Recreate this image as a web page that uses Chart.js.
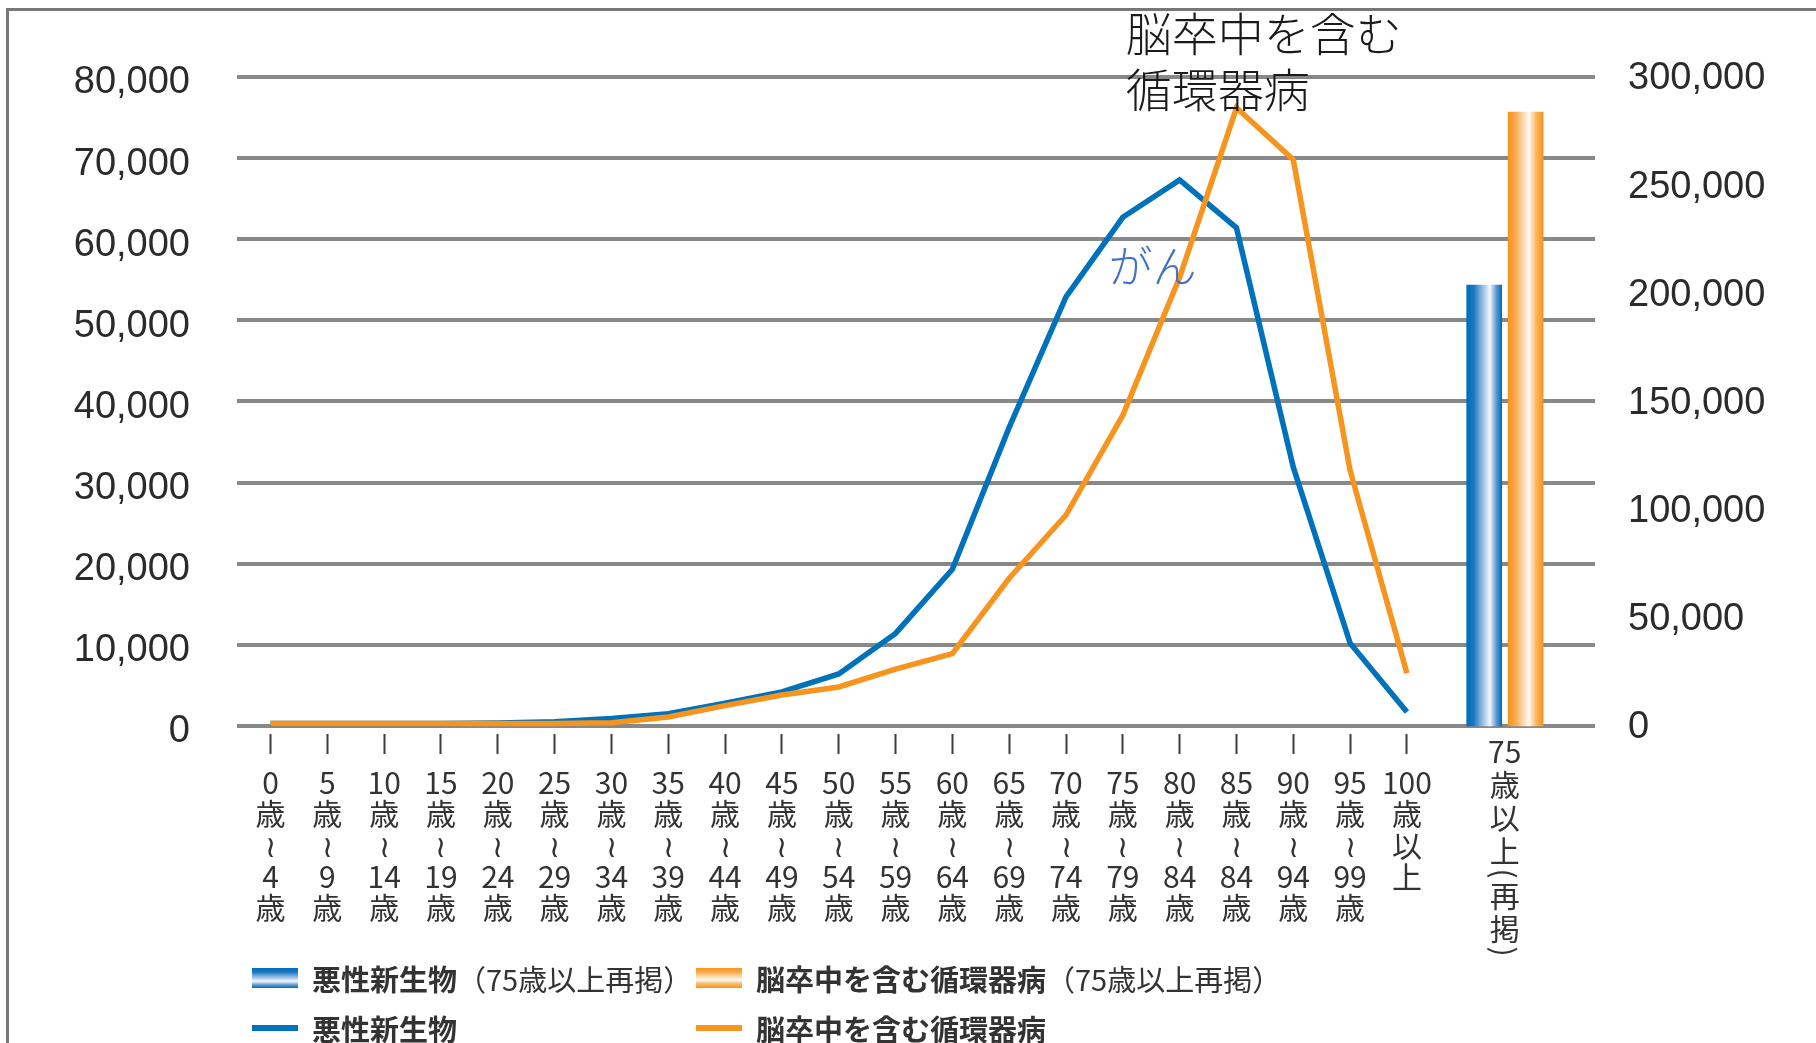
<!DOCTYPE html>
<html lang="ja">
<head>
<meta charset="UTF-8">
<title>年齢階級別 悪性新生物・循環器病の死亡数</title>
<script src="https://cdn.jsdelivr.net/npm/chart.js"></script>
<style>
  html, body { margin: 0; padding: 0; background: #fff; overflow: hidden; }
  #wrap { position: relative; width: 1816px; height: 1043px; }
  #frame { position: absolute; left: 6px; top: 8px; width: 1900px; height: 1200px;
           border: 3px solid #777; box-sizing: border-box; pointer-events: none; }
  #legend { position: absolute; left: 252px; top: 953px; display: grid;
            grid-template-columns: 444px auto; font-family: "Noto Sans CJK JP"; font-size: 29px; color: #333; }
  #legend .item { display: flex; align-items: center; height: 50px; white-space: nowrap; }
  #legend .sw { width: 46px; margin-right: 14px; }
  #legend b { font-weight: 700; }
  #legend span.note { font-weight: 400; font-size: 29px; }
</style>
</head>
<body>
<div id="wrap">
  <canvas id="chart"></canvas>
  <div id="frame"></div>
  <div id="legend"></div>
</div>
<script>
// 年齢階級（5歳刻み）
const ageFrom = ['0', '5', '10', '15', '20', '25', '30', '35', '40', '45', '50',
                 '55', '60', '65', '70', '75', '80', '85', '90', '95', '100'];
const ageTo   = ['4', '9', '14', '19', '24', '29', '34', '39', '44', '49', '54',
                 '59', '64', '69', '74', '79', '84', '84', '94', '99', null];

// 死亡数（左軸）
const cancerDeaths = [300, 300, 300, 300, 350, 500, 900, 1500, 2800, 4200, 6400,
                      11400, 19300, 36800, 52900, 62700, 67300, 61400, 31900, 10200, 1700];
const circDeaths   = [300, 300, 300, 300, 300, 300, 400, 1100, 2500, 3800, 4800,
                      7000, 8900, 18200, 26000, 38300, 55300, 76200, 69800, 31500, 6500];

// 75歳以上（再掲、右軸）
const cancer75 = 203800;
const circ75 = 283800;
const barSlots = [21.36, 22.09];
const barTickPos = 21.72;
const barTickLines = ['75', '歳', '以', '上', '(', '再', '掲', ')'];

const seriesNames = ['悪性新生物', '脳卒中を含む循環器病'];
const recapNote = '（75歳以上再掲）';

const leftTicks = [0, 10000, 20000, 30000, 40000, 50000, 60000, 70000, 80000];
const rightTicks = [0, 50000, 100000, 150000, 200000, 250000, 300000];
const xRange = [-0.59, 23.31];

const notes = [
  { lines: ['脳卒中を含む', '循環器病'], x: 15.05, y: 85400, color: '#1a1a1a', size: 46 },
  { lines: ['がん'], x: 14.75, y: 56700, color: '#4472c4', size: 44 }
];

const BLUE = '#0071bb';
const ORANGE = '#f7941e';
const blueStops = [[0, '#006cb8'], [0.2, '#1a78c2'], [0.5, '#a9c9ea'], [0.66, '#f4f8fd'], [0.85, '#5d97d3'], [1, '#006cb8']];
const orangeStops = [[0, '#f7941d'], [0.2, '#f9a84a'], [0.48, '#fde3c4'], [0.6, '#fffaf3'], [0.8, '#fbb560'], [1, '#f7941d']];

function ageLabel(i) {
  if (ageTo[i] === null) return [ageFrom[i], '歳', '以', '上'];
  return [ageFrom[i], '歳', '≀', ageTo[i], '歳'];
}

function barFill(stops, slot) {
  return (c) => {
    const chart = c.chart;
    if (!chart.chartArea) return stops[0][1];
    const px = chart.scales.x.getPixelForValue(slot);
    const g = chart.ctx.createLinearGradient(px - 17.5, 0, px + 17.5, 0);
    stops.forEach(([o, col]) => g.addColorStop(o, col));
    return g;
  };
}

// 右端の再掲バーの縦書きラベル（括弧は90度回転）
const barLabelPlugin = {
  id: 'barLabel',
  afterDraw(chart) {
    const { ctx, scales: { x } } = chart;
    const cx = x.getPixelForValue(barTickPos);
    let y = x.top + 18;
    ctx.save();
    ctx.font = '30px "Noto Sans CJK JP"';
    ctx.fillStyle = '#333';
    ctx.textAlign = 'center';
    ctx.textBaseline = 'middle';
    barTickLines.forEach((s, i) => {
      const br = s === '(' || s === ')';
      if (i > 0) {
        const prevBr = barTickLines[i - 1] === '(' || barTickLines[i - 1] === ')';
        y += (br || prevBr) ? 22.5 : 33;
      }
      if (br) {
        ctx.save();
        ctx.translate(cx, y);
        ctx.rotate(Math.PI / 2);
        ctx.fillText(s, 0, 0);
        ctx.restore();
      } else {
        ctx.fillText(s, cx, y);
      }
    });
    ctx.restore();
  }
};

// 系列名の注記
const notePlugin = {
  id: 'notes',
  afterDatasetsDraw(chart) {
    const { ctx, scales: { x, y } } = chart;
    ctx.save();
    ctx.textAlign = 'left';
    ctx.textBaseline = 'middle';
    notes.forEach(n => {
      ctx.font = `300 ${n.size}px "Noto Sans CJK JP Light", "Noto Sans CJK JP"`;
      ctx.fillStyle = n.color;
      const px = x.getPixelForValue(n.x);
      let py = y.getPixelForValue(n.y);
      n.lines.forEach(line => { ctx.fillText(line, px, py); py += 56; });
    });
    ctx.restore();
  }
};

const canvas = document.getElementById('chart');
canvas.width = 1816;
canvas.height = 1043;

const chart = new Chart(canvas.getContext('2d'), {
  type: 'line',
  data: {
    datasets: [
      { type: 'bar', label: seriesNames[0] + recapNote, yAxisID: 'y2', grouped: false,
        data: [{ x: barSlots[0], y: cancer75 }], barThickness: 35,
        backgroundColor: barFill(blueStops, barSlots[0]), legendSwatch: 'bar', swatchStops: blueStops, order: 3 },
      { type: 'bar', label: seriesNames[1] + recapNote, yAxisID: 'y2', grouped: false,
        data: [{ x: barSlots[1], y: circ75 }], barThickness: 35,
        backgroundColor: barFill(orangeStops, barSlots[1]), legendSwatch: 'bar', swatchStops: orangeStops, order: 3 },
      { label: seriesNames[0], yAxisID: 'y', data: cancerDeaths.map((v, i) => ({ x: i, y: v })),
        borderColor: BLUE, borderWidth: 5.5, pointRadius: 0, tension: 0, legendSwatch: 'line', order: 2 },
      { label: seriesNames[1], yAxisID: 'y', data: circDeaths.map((v, i) => ({ x: i, y: v })),
        borderColor: ORANGE, borderWidth: 5.5, pointRadius: 0, tension: 0, legendSwatch: 'line', order: 1 }
    ]
  },
  options: {
    responsive: false,
    animation: false,
    events: [],
    layout: { padding: { top: 77, left: 0, right: 0, bottom: 0 } },
    plugins: { legend: { display: false }, tooltip: { enabled: false } },
    scales: {
      x: {
        type: 'linear', min: xRange[0], max: xRange[1], offset: false,
        afterBuildTicks: s => { s.ticks = ageFrom.map((_, i) => ({ value: i })); },
        afterFit: s => { s.height = 309; },
        border: { display: false },
        grid: { offset: false, drawOnChartArea: false, tickLength: 20, tickWidth: 2, tickColor: '#3c3c3c' },
        ticks: {
          autoSkip: false, maxRotation: 0, minRotation: 0, padding: 13, color: '#333',
          font: { family: '"Noto Sans CJK JP"', size: 30, lineHeight: '31.25px' },
          callback: (v, i) => ageLabel(i)
        }
      },
      y: {
        position: 'left', min: -1000, max: 80000,
        afterBuildTicks: s => { s.ticks = leftTicks.map(v => ({ value: v })); },
        afterFit: s => { s.width = 237; },
        border: { display: false },
        grid: { color: '#888', lineWidth: 4, drawTicks: false },
        ticks: {
          padding: 47, color: '#2b2b2b', labelOffset: 6,
          font: { family: '"Liberation Sans"', size: 38 },
          callback: v => v.toLocaleString('en-US')
        }
      },
      y2: {
        position: 'right', min: -3750, max: 300000,
        afterBuildTicks: s => { s.ticks = rightTicks.map(v => ({ value: v })); },
        afterFit: s => { s.width = 221; },
        border: { display: false },
        grid: { display: false, drawTicks: false },
        ticks: {
          padding: 33, color: '#2b2b2b', labelOffset: 2,
          font: { family: '"Liberation Sans"', size: 38 },
          callback: v => v.toLocaleString('en-US')
        }
      }
    }
  },
  plugins: [barLabelPlugin, notePlugin]
});

// 凡例：上段に再掲バー、下段に折れ線
function buildLegend() {
  const box = document.getElementById('legend');
  const ds = chart.data.datasets;
  const rows = [ds.filter(d => d.legendSwatch === 'bar'), ds.filter(d => d.legendSwatch === 'line')];
  rows.forEach(row => row.forEach(d => {
    const item = document.createElement('div');
    item.className = 'item';
    const sw = document.createElement('div');
    sw.className = 'sw';
    if (d.legendSwatch === 'bar') {
      sw.style.height = '20px';
      sw.style.background = 'linear-gradient(to bottom,' +
        d.swatchStops.map(([o, c]) => `${c} ${Math.round(o * 100)}%`).join(',') + ')';
    } else {
      sw.style.height = '6px';
      sw.style.background = d.borderColor;
    }
    item.appendChild(sw);
    const cut = d.label.indexOf('（');
    const b = document.createElement('b');
    b.textContent = cut >= 0 ? d.label.slice(0, cut) : d.label;
    item.appendChild(b);
    if (cut >= 0) {
      const n = document.createElement('span');
      n.className = 'note';
      n.textContent = d.label.slice(cut);
      item.appendChild(n);
    }
    box.appendChild(item);
  }));
}
buildLegend();
</script>
</body>
</html>
